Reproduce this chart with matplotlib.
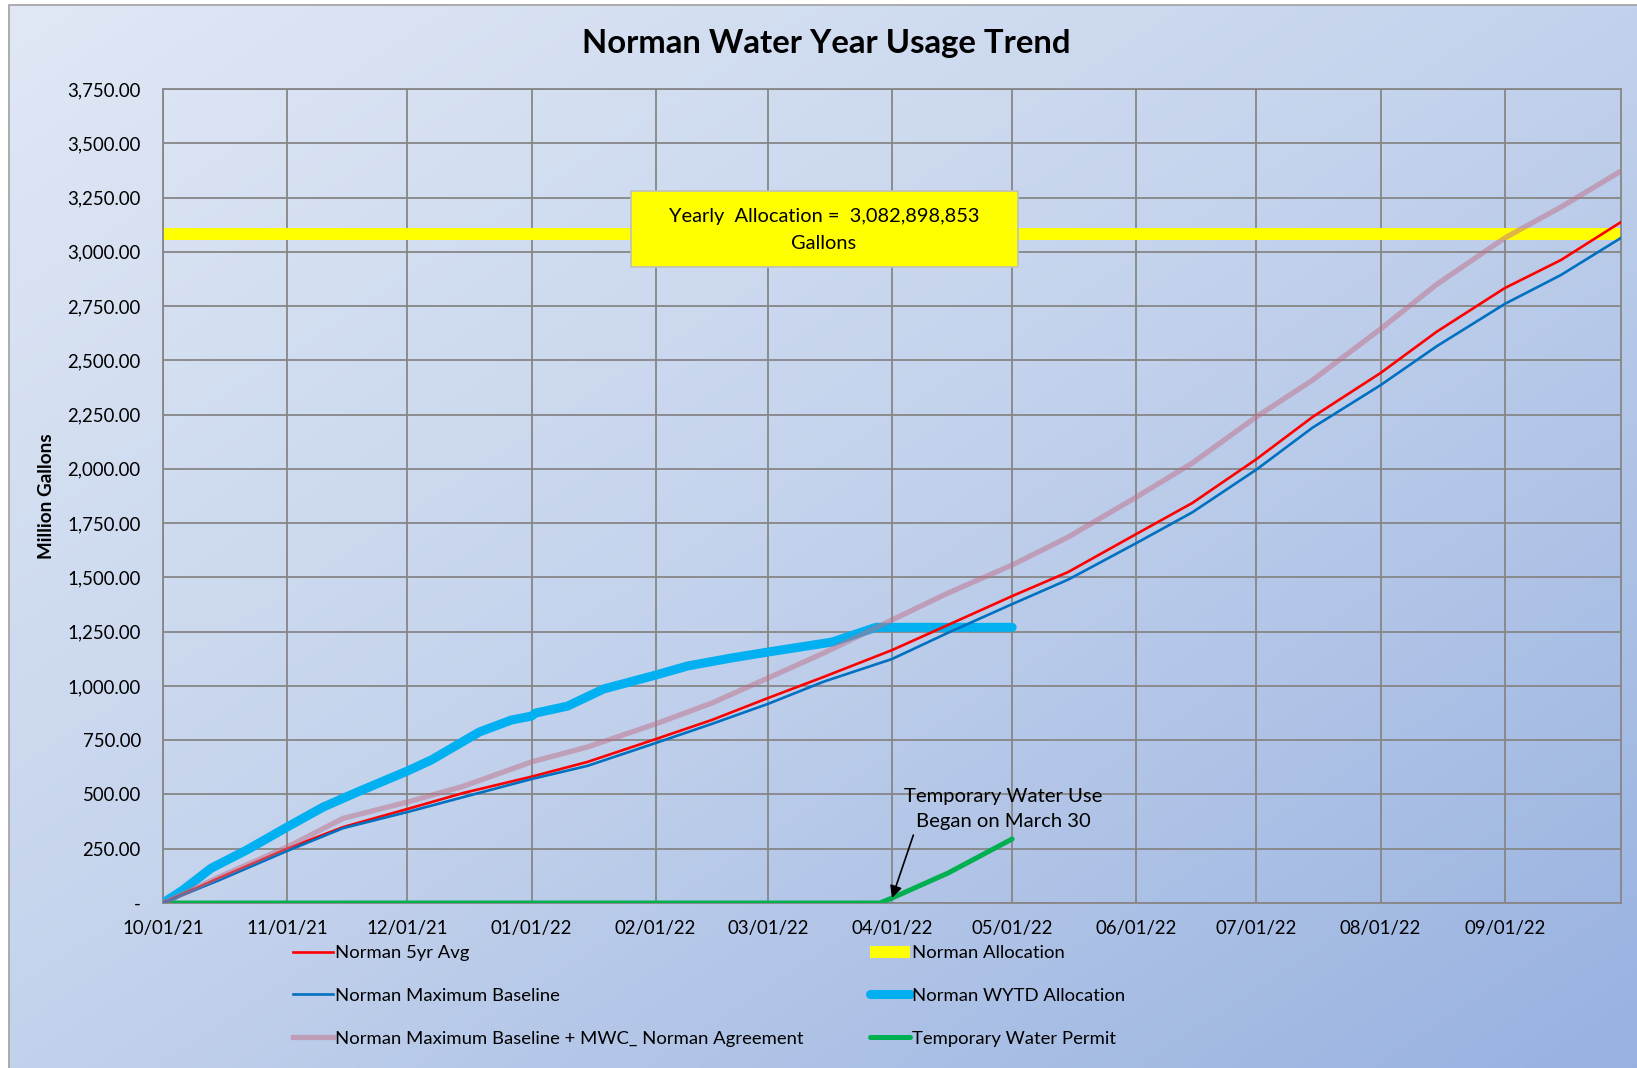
import matplotlib
matplotlib.use('Agg')
import matplotlib.pyplot as plt
import numpy as np
import pandas as pd
from matplotlib.patches import Rectangle

plt.rcParams['font.family'] = ['Lato', 'DejaVu Sans']

# ---------------- data (million gallons) ----------------
trend_dates = ['2021-10-01', '2021-10-15', '2021-11-01', '2021-11-15', '2021-12-01',
               '2021-12-15', '2022-01-01', '2022-01-15', '2022-02-01', '2022-02-15',
               '2022-03-01', '2022-03-15', '2022-04-01', '2022-04-15', '2022-05-01',
               '2022-05-15', '2022-06-01', '2022-06-15', '2022-07-01', '2022-07-15',
               '2022-08-01', '2022-08-15', '2022-09-01', '2022-09-15', '2022-09-30']
avg_5yr = [0, 115, 250, 350, 433, 507, 582, 650, 755, 843, 944, 1042, 1165, 1281, 1414,
           1525, 1700, 1843, 2045, 2239, 2442, 2632, 2833, 2962, 3137]
max_baseline = [0, 105, 240, 345, 419, 488, 571, 632, 737, 825, 917, 1020, 1124, 1245, 1377,
                1490, 1658, 1800, 1997, 2190, 2386, 2565, 2760, 2893, 3064]
baseline_mwc = [0, 120, 258, 390, 465, 538, 650, 719, 825, 921, 1036, 1152, 1304, 1428, 1557,
                1686, 1870, 2027, 2240, 2409, 2645, 2850, 3064, 3206, 3372]

wytd_dates = ['2021-10-01', '2021-10-06', '2021-10-13', '2021-10-22', '2021-11-01',
              '2021-11-10', '2021-11-18', '2021-12-01', '2021-12-07', '2021-12-19',
              '2021-12-27', '2022-01-01', '2022-01-02', '2022-01-10', '2022-01-19',
              '2022-02-01', '2022-02-09', '2022-02-20', '2022-03-01', '2022-03-17',
              '2022-03-28', '2022-05-01']
wytd_alloc = [0, 60, 160, 245, 350, 442, 507, 608, 659, 788, 843, 861, 875, 907, 986,
              1050, 1092, 1129, 1156, 1202, 1270, 1270]

permit_dates = ['2021-10-01', '2022-03-29', '2022-04-01', '2022-04-15', '2022-05-01']
permit_vals = [0, 0, 23, 138, 295]

alloc_dates = ['2021-10-01', '2022-09-30']
alloc_vals = [3082.898853, 3082.898853]

tick_dates = ['2021-10-01', '2021-11-01', '2021-12-01', '2022-01-01', '2022-02-01',
              '2022-03-01', '2022-04-01', '2022-05-01', '2022-06-01', '2022-07-01',
              '2022-08-01', '2022-09-01']
tick_labels = ['10/01/21', '11/01/21', '12/01/21', '01/01/22', '02/01/22', '03/01/22',
               '04/01/22', '05/01/22', '06/01/22', '07/01/22', '08/01/22', '09/01/22']
y_ticks = [0, 250, 500, 750, 1000, 1250, 1500, 1750, 2000, 2250, 2500, 2750, 3000, 3250, 3500, 3750]
y_labels = ['-', '250.00', '500.00', '750.00', '1,000.00', '1,250.00', '1,500.00', '1,750.00',
            '2,000.00', '2,250.00', '2,500.00', '2,750.00', '3,000.00', '3,250.00', '3,500.00',
            '3,750.00']

series_names = ['Norman 5yr Avg', 'Norman Maximum Baseline',
                'Norman Maximum Baseline + MWC_ Norman Agreement',
                'Norman Allocation', 'Norman WYTD Allocation', 'Temporary Water Permit']

# ---------------- figure ----------------
W, H = 1637, 1068
fig = plt.figure(figsize=(W / 100, H / 100), dpi=100, facecolor='white')

def fx(px):
    return px / W

def fy(py):
    return 1 - py / H

# gradient background
bg = fig.add_axes([fx(9), 0, 1 - fx(9), fy(5)])
gh, gw = 200, 300
yy, xx = np.mgrid[0:gh, 0:gw]
t = (xx / (gw - 1) * 0.5 + yy / (gh - 1) * 0.5)
c0 = np.array([0xe0, 0xe8, 0xf5]) / 255
c1 = np.array([0xc3, 0xd2, 0xec]) / 255
c2 = np.array([0x97, 0xb1, 0xe0]) / 255
img = np.where(t[..., None] < 0.5,
               c0 + (c1 - c0) * (t[..., None] / 0.5),
               c1 + (c2 - c1) * ((t[..., None] - 0.5) / 0.5))
bg.imshow(img, aspect='auto', extent=[0, 1, 0, 1], interpolation='bilinear')
bg.set_xlim(0, 1)
bg.set_ylim(0, 1)
bg.axis('off')
fig.add_artist(Rectangle((fx(9), -0.01), 1.02, fy(5) + 0.01, transform=fig.transFigure,
                         fill=False, edgecolor='#a0a0a0', linewidth=1.2))

ax = fig.add_axes([fx(163), fy(903), fx(1621) - fx(163), fy(89) - fy(903)])
ax.set_facecolor('none')

td = pd.to_datetime(trend_dates)
l_yel, = ax.plot(pd.to_datetime(alloc_dates), alloc_vals, color='#ffff00', lw=8.6,
                 solid_capstyle='butt', zorder=2)
l_cy, = ax.plot(pd.to_datetime(wytd_dates), wytd_alloc, color='#00b0f0', lw=6.5,
                solid_capstyle='round', solid_joinstyle='round', zorder=3)
l_gr, = ax.plot(pd.to_datetime(permit_dates), permit_vals, color='#00b050', lw=3.6,
                solid_capstyle='round', zorder=3)
l_red, = ax.plot(td, avg_5yr, color='#ff0000', lw=1.9, zorder=4)
l_blue, = ax.plot(td, max_baseline, color='#0070c0', lw=1.9, zorder=4)
l_pink, = ax.plot(td, baseline_mwc, color='#c06f88', lw=3.8, alpha=0.5, zorder=5)

ax.set_xlim(pd.Timestamp('2021-10-01'), pd.Timestamp('2022-09-30'))
ax.set_ylim(0, 3750)
ax.set_xticks(pd.to_datetime(tick_dates))
ax.set_xticklabels(tick_labels)
ax.set_yticks(y_ticks)
ax.set_yticklabels(y_labels)
ax.tick_params(axis='both', length=0, labelsize=13.4, colors='black')
ax.tick_params(axis='y', pad=16)
ax.tick_params(axis='x', pad=12.5)
ax.grid(True, color='#868686', lw=1.3, zorder=1)
ax.set_axisbelow(True)
for s in ax.spines.values():
    s.set_color('#868686')
    s.set_linewidth(1.3)

# title and axis label
fig.text(fx(826), fy(43), 'Norman Water Year Usage Trend', ha='center', va='center',
         fontsize=23.7, fontweight='bold')
fig.text(fx(47), fy(496), 'Million Gallons', ha='center', va='center', rotation=90,
         fontsize=13.6, fontweight='bold')

# allocation box
fig.add_artist(Rectangle((fx(631), fy(267)), fx(1018) - fx(631), fy(191) - fy(267),
                         transform=fig.transFigure, facecolor='#ffff00',
                         edgecolor='#bfbfbf', linewidth=1.2, zorder=6))
fig.text(fx(824), fy(230), 'Yearly  Allocation =  3,082,898,853\nGallons', ha='center',
         va='center', fontsize=14.4, linespacing=1.7, zorder=7)

# annotation
fig.text(fx(1003), fy(809), 'Temporary Water Use\nBegan on March 30', ha='center',
         va='center', fontsize=14.6, linespacing=1.55)
ax.annotate('', xy=(pd.Timestamp('2022-04-01'), 23),
            xytext=(pd.Timestamp('2022-04-06 08:00'), 313),
            arrowprops=dict(arrowstyle='-|>', color='black', lw=1.2, mutation_scale=18,
                            shrinkA=0, shrinkB=0), zorder=8)

# legends (two columns)
kw = dict(frameon=False, fontsize=13.3, handlelength=2.15, handletextpad=0.12,
          labelspacing=1.45, borderpad=0, borderaxespad=0, loc='upper left')
leg1 = fig.legend([l_red, l_blue, l_pink], series_names[:3],
                  bbox_to_anchor=(fx(293), fy(945)), **kw)
leg2 = fig.legend([l_yel, l_cy, l_gr], series_names[3:],
                  bbox_to_anchor=(fx(870), fy(945)), **kw)

fig.savefig('out.png', dpi=100, facecolor='white')
